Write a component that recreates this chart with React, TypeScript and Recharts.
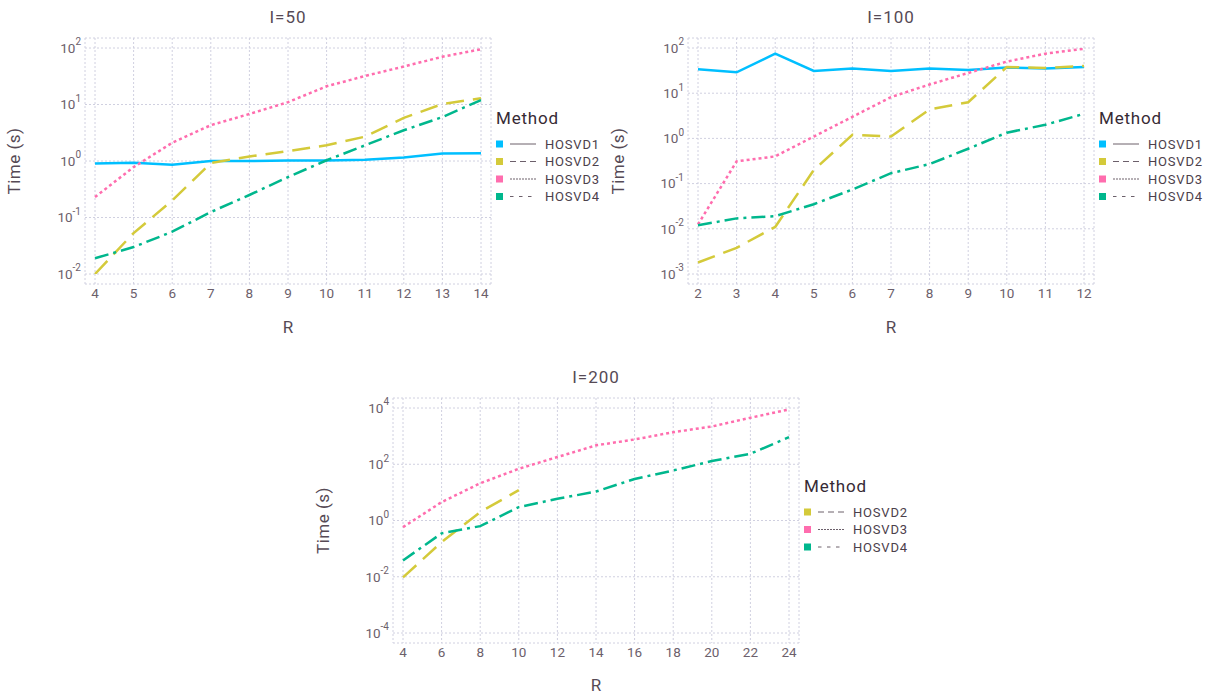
import React from "react";
import { LineChart, Line, XAxis, YAxis, CartesianGrid, Legend } from "recharts";

// I=50
const rI50 = [4, 5, 6, 7, 8, 9, 10, 11, 12, 13, 14];
const hosvd1I50 = [0.9, 0.93, 0.86, 1.0, 1.0, 1.02, 1.02, 1.05, 1.15, 1.36, 1.37];
const hosvd2I50 = [0.01, 0.053, 0.2, 0.92, 1.2, 1.5, 1.9, 2.7, 5.8, 10.2, 12.9];
const hosvd3I50 = [0.23, 0.78, 2.1, 4.3, 6.8, 11, 21, 32, 47, 70, 95];
const hosvd4I50 = [0.019, 0.03, 0.056, 0.125, 0.25, 0.52, 1.03, 1.9, 3.5, 6, 12];

// I=100
const rI100 = [2, 3, 4, 5, 6, 7, 8, 9, 10, 11, 12];
const hosvd1I100 = [34, 29, 75, 31, 35, 31, 35, 32.5, 37, 35, 38];
const hosvd2I100 = [0.0018, 0.0038, 0.011, 0.2, 1.2, 1.1, 4.4, 6.3, 38, 36, 40];
const hosvd3I100 = [0.0125, 0.31, 0.4, 1.1, 3, 8.2, 15.6, 28, 50, 75, 96];
const hosvd4I100 = [0.012, 0.017, 0.019, 0.035, 0.074, 0.17, 0.27, 0.59, 1.34, 2.0, 3.5];

// I=200
const rI200 = [4, 6, 8, 10, 12, 14, 16, 18, 20, 22, 24];
const hosvd2I200 = [0.0095, 0.17, 2, 12, null, null, null, null, null, null, null];
const hosvd3I200 = [0.58, 4.5, 21, 69, 180, 470, 760, 1380, 2200, 4500, 8900];
const hosvd4I200 = [0.038, 0.35, 0.63, 3, 5.9, 10.7, 30, 60, 130, 236, 920];

const yTicksI50 = [0.01, 0.1, 1, 10, 100];
const yTicksI100 = [0.001, 0.01, 0.1, 1, 10, 100];
const yTicksI200 = [0.0001, 0.01, 1, 100, 10000];

const lineStyle: Record<string, { color: string; dash?: string; keyDash?: string }> = {
  HOSVD1: { color: "#00BFFF" },
  HOSVD2: { color: "#D4CA3A", dash: "18 9", keyDash: "6 4" },
  HOSVD3: { color: "#FF6DAE", dash: "3 3", keyDash: "2 1" },
  HOSVD4: { color: "#00B78D", dash: "14 5 3 5", keyDash: "3.5 5.5" },
};

const Y_AXIS_W = 50;
const X_AXIS_H = 30;

type Series = { name: string; values: (number | null)[] };

function PowerTick(props: any) {
  const { x, y, payload } = props;
  const exp = Math.round(Math.log10(payload.value));
  return (
    <text x={x} y={y + 4.8} textAnchor="end" fill="#6c606b" fontSize={13.5}>
      <tspan>10</tspan>
      <tspan dy={-7.5} fontSize={10}>
        {exp}
      </tspan>
    </text>
  );
}

function MethodKey(props: any) {
  const items = props.payload ?? [];
  return (
    <svg width={120} height={30 + items.length * 17.5}>
      <text x={2} y={19} fontSize={17} fill="#362a35" letterSpacing={0.8}>
        Method
      </text>
      {items.map((e: any, i: number) => {
        const y = 39 + i * 17.5;
        const st = lineStyle[e.value] ?? {};
        return (
          <g key={e.value}>
            <rect x={2} y={y - 3.5} width={7} height={7} fill={e.color} />
            <line x1={16} x2={42} y1={y} y2={y} stroke="#6c606b" strokeWidth={1} strokeDasharray={st.keyDash} />
            <text x={51} y={y + 4.6} fontSize={13} fill="#4c404b" letterSpacing={0.8}>
              {e.value}
            </text>
          </g>
        );
      })}
    </svg>
  );
}

interface PanelProps {
  title: string;
  r: number[];
  series: Series[];
  xTicks: number[];
  yTicks: number[];
  left: number;
  top: number;
  width: number;
  height: number;
  margin: { top: number; right: number; bottom: number; left: number };
  keyLeft: number;
  keyTop: number;
  ylabelX: number;
}

function Panel(p: PanelProps) {
  const data = p.r.map((R, i) => {
    const row: Record<string, number | null> = { R };
    p.series.forEach((s) => (row[s.name] = s.values[i]));
    return row;
  });
  const plotLeft = p.margin.left + Y_AXIS_W;
  const plotRight = p.width - p.margin.right;
  const plotTop = p.margin.top;
  const plotBottom = p.height - p.margin.bottom - X_AXIS_H;
  const cx = (plotLeft + plotRight) / 2;
  const cy = (plotTop + plotBottom) / 2;

  return (
    <div style={{ position: "absolute", left: p.left, top: p.top }}>
      <LineChart width={p.width} height={p.height} data={data} margin={p.margin}>
        <CartesianGrid stroke="#D0D0E0" strokeDasharray="2 2" />
        <XAxis
          dataKey="R"
          type="number"
          domain={[p.r[0], p.r[p.r.length - 1]]}
          ticks={p.xTicks}
          interval={0}
          padding={{ left: 10, right: 10 }}
          axisLine={false}
          tickLine={false}
          tickSize={0}
          tickMargin={4}
          height={X_AXIS_H}
          tick={{ fill: "#6c606b", fontSize: 13.5 }}
        />
        <YAxis
          scale="log"
          domain={[p.yTicks[0], p.yTicks[p.yTicks.length - 1]]}
          ticks={p.yTicks}
          interval={0}
          padding={{ top: 10, bottom: 10 }}
          axisLine={false}
          tickLine={false}
          tickSize={0}
          tickMargin={4}
          width={Y_AXIS_W}
          allowDataOverflow
          tick={(tp: any) => <PowerTick {...tp} />}
        />
        {p.series.map((s) => (
          <Line
            key={s.name}
            type="linear"
            dataKey={s.name}
            name={s.name}
            stroke={lineStyle[s.name].color}
            strokeWidth={2.5}
            strokeDasharray={lineStyle[s.name].dash}
            dot={false}
            activeDot={false}
            isAnimationActive={false}
          />
        ))}
        <Legend
          layout="vertical"
          align="center"
          verticalAlign="middle"
          content={(lp: any) => <MethodKey {...lp} />}
          wrapperStyle={{ left: p.keyLeft, top: p.keyTop, width: 120 }}
        />
        <text x={cx} y={23} textAnchor="middle" fontSize={17} fill="#564a55" letterSpacing={1}>
          {p.title}
        </text>
        <text x={cx} y={p.height - 7} textAnchor="middle" fontSize={17} fill="#564a55">
          R
        </text>
        <text
          transform={`translate(${p.ylabelX},${cy}) rotate(-90)`}
          textAnchor="middle"
          fontSize={17}
          fill="#564a55"
          letterSpacing={0.5}
        >
          Time (s)
        </text>
      </LineChart>
    </div>
  );
}

export default function App() {
  return (
    <div
      style={{
        position: "absolute",
        left: 0,
        top: 0,
        width: 1210,
        height: 698,
        background: "#ffffff",
        fontFamily: "Roboto, 'Noto Sans', sans-serif",
      }}
    >
      <Panel
        title="I=50"
        r={rI50}
        series={[
          { name: "HOSVD1", values: hosvd1I50 },
          { name: "HOSVD2", values: hosvd2I50 },
          { name: "HOSVD3", values: hosvd3I50 },
          { name: "HOSVD4", values: hosvd4I50 },
        ]}
        xTicks={rI50}
        yTicks={yTicksI50}
        left={0}
        top={0}
        width={600}
        height={340}
        margin={{ top: 38, right: 109, bottom: 26, left: 35 }}
        keyLeft={494}
        keyTop={105}
        ylabelX={19.5}
      />
      <Panel
        title="I=100"
        r={rI100}
        series={[
          { name: "HOSVD1", values: hosvd1I100 },
          { name: "HOSVD2", values: hosvd2I100 },
          { name: "HOSVD3", values: hosvd3I100 },
          { name: "HOSVD4", values: hosvd4I100 },
        ]}
        xTicks={rI100}
        yTicks={yTicksI100}
        left={605}
        top={0}
        width={605}
        height={340}
        margin={{ top: 38, right: 116, bottom: 26, left: 33 }}
        keyLeft={492}
        keyTop={105}
        ylabelX={19}
      />
      <Panel
        title="I=200"
        r={rI200}
        series={[
          { name: "HOSVD2", values: hosvd2I200 },
          { name: "HOSVD3", values: hosvd3I200 },
          { name: "HOSVD4", values: hosvd4I200 },
        ]}
        xTicks={rI200}
        yTicks={yTicksI200}
        left={300}
        top={360}
        width={600}
        height={338}
        margin={{ top: 38, right: 101, bottom: 25, left: 43 }}
        keyLeft={502}
        keyTop={113}
        ylabelX={28.5}
      />
    </div>
  );
}
